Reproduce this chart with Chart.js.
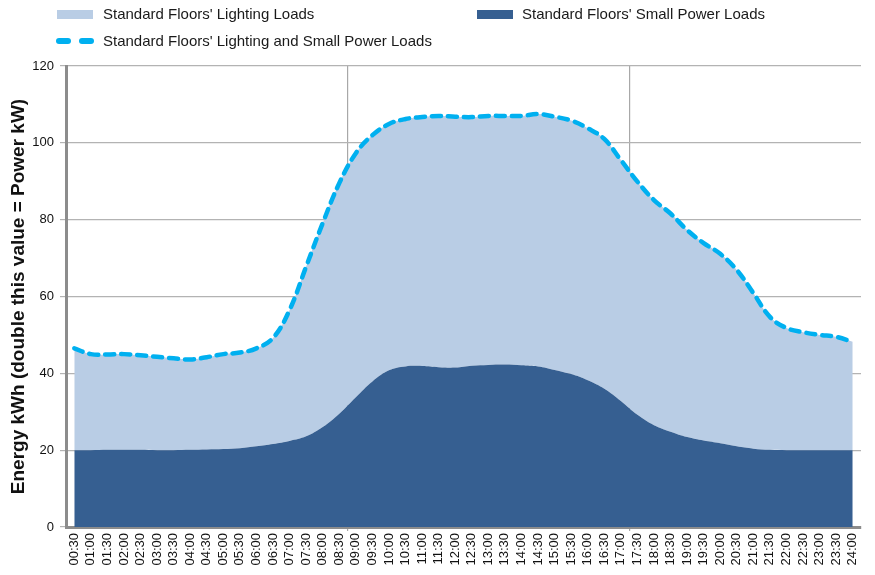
<!DOCTYPE html>
<html>
<head>
<meta charset="utf-8">
<script src="https://cdn.jsdelivr.net/npm/chart.js@4"></script>
<style>
  html, body { margin: 0; padding: 0; background: #ffffff; }
  #wrap { position: relative; width: 875px; height: 575px; overflow: hidden; }
  #c { position: absolute; left: 0; top: 0; }
  .leg { position: absolute; font-family: "Liberation Sans", Arial, sans-serif; font-size: 15px; color: #1a1a1a; white-space: nowrap; line-height: 18px; }
  .box { position: absolute; width: 36px; height: 9px; }
  .dash { position: absolute; width: 15px; height: 6px; border-radius: 3px; background: #00b0f0; }
</style>
</head>
<body>
<div id="wrap">
  <canvas id="c" width="875" height="575"></canvas>
  <div class="box" style="left:57px; top:10px; background:#b9cde5;"></div>
  <div class="leg" style="left:103px; top:5px;">Standard Floors' Lighting Loads</div>
  <div class="box" style="left:477px; top:10px; background:#365f91;"></div>
  <div class="leg" style="left:522px; top:5px;">Standard Floors' Small Power Loads</div>
  <div class="dash" style="left:56px; top:38px;"></div>
  <div class="dash" style="left:79px; top:38px;"></div>
  <div class="leg" style="left:103px; top:32px;">Standard Floors' Lighting and Small Power Loads</div>
</div>
<script>
const timeLabels = ["00:30","01:00","01:30","02:00","02:30","03:00","03:30","04:00","04:30","05:00","05:30","06:00",
  "06:30","07:00","07:30","08:00","08:30","09:00","09:30","10:00","10:30","11:00","11:30","12:00",
  "12:30","13:00","13:30","14:00","14:30","15:00","15:30","16:00","16:30","17:00","17:30","18:00",
  "18:30","19:00","19:30","20:00","20:30","21:00","21:30","22:00","22:30","23:00","23:30","24:00"];

const smallPowerLoads = [20.0,20.0,20.1,20.1,20.1,20.0,20.0,20.1,20.2,20.3,20.5,21.0,
  21.6,22.4,23.6,26.0,29.5,33.8,37.9,40.8,41.8,41.9,41.6,41.5,
  42.0,42.2,42.3,42.1,41.8,40.9,39.8,38.2,36.0,32.8,29.2,26.5,
  24.8,23.4,22.5,21.8,21.0,20.4,20.1,20.0,20.0,20.0,20.0,20.0];

const lightingAndSmallPowerLoads = [46.5,45.0,44.9,45.0,44.7,44.3,43.9,43.6,44.2,45.0,45.4,46.5,
  49.2,56.5,67.8,79.1,89.5,97.3,102.0,104.9,106.2,106.7,107.0,106.8,
  106.7,107.0,107.0,107.0,107.5,106.8,105.8,103.8,101.0,95.5,89.9,85.1,
  81.6,77.3,73.9,71.1,66.9,60.9,54.7,51.8,50.7,50.0,49.5,48.2];

const yTicks = [0, 20, 40, 60, 80, 100, 120];
const yTitle = "Energy kWh (double this value = Power kW)";
const xGridAt = [17, 34];

new Chart(document.getElementById('c'), {
  type: 'line',
  data: {
    labels: timeLabels,
    datasets: [
      {
        label: "Standard Floors' Small Power Loads",
        data: smallPowerLoads,
        backgroundColor: '#365f91',
        borderColor: '#365f91',
        borderWidth: 0,
        fill: 'origin',
        pointRadius: 0,
        tension: 0.4
      },
      {
        label: "Standard Floors' Lighting and Small Power Loads",
        data: lightingAndSmallPowerLoads,
        backgroundColor: '#b9cde5',
        borderColor: '#00b0f0',
        borderWidth: 4.5,
        borderDash: [9, 7],
        borderCapStyle: 'round',
        fill: '-1',
        pointRadius: 0,
        tension: 0.4
      }
    ]
  },
  options: {
    responsive: false,
    animation: false,
    devicePixelRatio: 1,
    layout: { padding: { top: 66, right: 14, bottom: 0, left: 0 } },
    plugins: {
      legend: { display: false },
      tooltip: { enabled: false }
    },
    scales: {
      x: {
        type: 'category',
        offset: true,
        afterFit: (s) => { s.height = 48; },
        grid: {
          offset: true,
          drawOnChartArea: true,
          tickLength: 4,
          lineWidth: 1.2,
          color: (ctx) => (xGridAt.includes(ctx.index) ? '#a8a8a8' : 'rgba(0,0,0,0)')
        },
        border: { display: true, color: '#8c8c8c', width: 3 },
        ticks: {
          autoSkip: false,
          maxRotation: 90,
          minRotation: 90,
          padding: 2,
          color: '#111111',
          font: { family: '"Liberation Sans", Arial, sans-serif', size: 13 }
        }
      },
      y: {
        min: 0,
        max: 120,
        afterFit: (s) => { s.width = 66; },
        afterBuildTicks: (s) => { s.ticks = yTicks.map(v => ({ value: v })); },
        grid: { color: '#b3b3b3', lineWidth: 1.2, tickLength: 6 },
        border: { display: true, color: '#8c8c8c', width: 3 },
        ticks: {
          padding: 6,
          color: '#111111',
          font: { family: '"Liberation Sans", Arial, sans-serif', size: 13 }
        },
        title: {
          display: true,
          text: yTitle,
          color: '#111111',
          padding: { top: 7, bottom: 0 },
          font: { family: '"Liberation Sans", Arial, sans-serif', size: 19, weight: 'bold' }
        }
      }
    }
  }
});
</script>
</body>
</html>
